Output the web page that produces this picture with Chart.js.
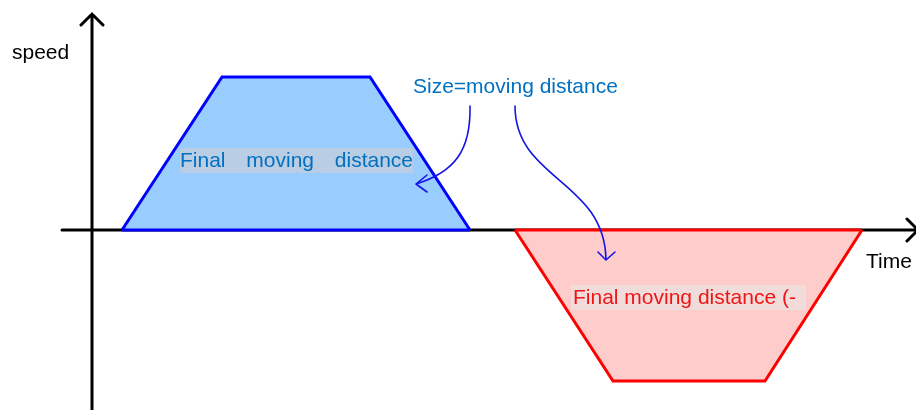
<!DOCTYPE html>
<html>
<head>
<meta charset="utf-8">
<script src="https://cdn.jsdelivr.net/npm/chart.js@4/dist/chart.umd.min.js"></script>
<style>
  html, body { margin: 0; padding: 0; background: #fff; }
  #wrap { width: 916px; height: 410px; position: relative; }
</style>
</head>
<body>
<div id="wrap"><canvas id="chart"></canvas></div>
<script>
// Speed profile: accelerate / cruise / decelerate, forward then reverse
const blueTimes = [122, 222, 370, 470];
const blueSpeeds = [0, 153, 153, 0];
const redTimes = [515, 613, 765, 862];
const redSpeeds = [0, -151, -151, 0];

const axisLabels = ['speed', 'Time'];
const noteText = 'Size=moving distance';
const blueLabelWords = ['Final', 'moving', 'distance'];
const redLabel = 'Final moving distance (-';

const FONT = '21px "Liberation Sans", Arial, sans-serif';
const toPts = (xs, ys) => xs.map((x, i) => ({ x, y: ys[i] }));
// the edge lying on the time axis (start -> end of the move)
const baseEdge = xs => [{ x: xs[0], y: 0 }, { x: xs[xs.length - 1], y: 0 }];

// axes, labels and the curved pointer arrows
const decor = {
  id: 'decor',
  beforeDatasetsDraw(chart) {
    const { ctx, scales: { x, y } } = chart;
    const y0 = y.getPixelForValue(0);
    const xa = x.getPixelForValue(92);
    ctx.save();
    ctx.strokeStyle = '#000';
    ctx.lineWidth = 3;
    ctx.lineCap = 'round';
    ctx.beginPath();
    ctx.moveTo(62, y0); ctx.lineTo(918, y0);
    ctx.moveTo(xa, 410); ctx.lineTo(xa, 14);
    // arrowheads
    ctx.moveTo(xa - 11, 25); ctx.lineTo(xa, 14); ctx.lineTo(xa + 11, 25);
    ctx.moveTo(907, y0 - 11); ctx.lineTo(918, y0); ctx.lineTo(907, y0 + 11);
    ctx.stroke();
    ctx.restore();
  },
  afterDatasetsDraw(chart) {
    const { ctx } = chart;
    ctx.save();
    ctx.font = FONT;
    ctx.textBaseline = 'middle';

    // axis titles
    ctx.fillStyle = '#000';
    ctx.fillText(axisLabels[0], 12, 53);
    ctx.fillText(axisLabels[1], 866, 262);

    // note
    ctx.fillStyle = '#0070c0';
    ctx.fillText(noteText, 413, 87);

    // blue label box
    ctx.fillStyle = '#b9cde4';
    ctx.fillRect(180, 148, 233, 25);
    ctx.fillStyle = '#0070c0';
    const widths = blueLabelWords.map(w => ctx.measureText(w).width);
    const gap = (233 - widths.reduce((a, b) => a + b, 0)) / (blueLabelWords.length - 1);
    let cx = 180;
    blueLabelWords.forEach((w, i) => { ctx.fillText(w, cx, 161); cx += widths[i] + gap; });

    // red label box
    ctx.fillStyle = '#f2dcdb';
    ctx.fillRect(571, 285, 235, 25);
    ctx.fillStyle = '#f01414';
    ctx.fillText(redLabel, 573, 298);

    // curved arrows
    ctx.strokeStyle = '#1414e6';
    ctx.lineWidth = 1.6;
    ctx.lineJoin = 'round';
    ctx.lineCap = 'round';
    ctx.beginPath();
    ctx.moveTo(470, 106);
    ctx.bezierCurveTo(471, 150, 455, 172, 416, 184);
    ctx.moveTo(427, 175); ctx.lineTo(416, 184); ctx.lineTo(427, 192);
    ctx.moveTo(515, 106);
    ctx.bezierCurveTo(515, 180, 605, 180, 606, 260);
    ctx.moveTo(598, 252); ctx.lineTo(606, 260); ctx.lineTo(615, 252);
    ctx.stroke();
    ctx.restore();
  }
};

const shape = {
  borderWidth: 3,
  pointRadius: 0,
  tension: 0,
  borderJoinStyle: 'miter'
};

new Chart(document.getElementById('chart'), {
  type: 'line',
  data: {
    datasets: [
      { ...shape, order: 1, data: toPts(blueTimes, blueSpeeds), borderColor: '#0000ff', backgroundColor: '#99ccff', fill: 'origin' },
      { ...shape, order: 0, data: baseEdge(blueTimes), borderColor: '#0000ff', fill: false },
      { ...shape, order: 1, data: toPts(redTimes, redSpeeds), borderColor: '#ff0000', backgroundColor: '#ffcccc', fill: 'origin' },
      { ...shape, order: 0, data: baseEdge(redTimes), borderColor: '#ff0000', fill: false }
    ]
  },
  options: {
    responsive: true,
    maintainAspectRatio: false,
    animation: false,
    layout: { padding: 0 },
    plugins: { legend: { display: false }, tooltip: { enabled: false } },
    scales: {
      x: { type: 'linear', min: 0, max: 916, display: false },
      y: { type: 'linear', min: -180, max: 230, display: false }
    }
  },
  plugins: [decor]
});
</script>
</body>
</html>
